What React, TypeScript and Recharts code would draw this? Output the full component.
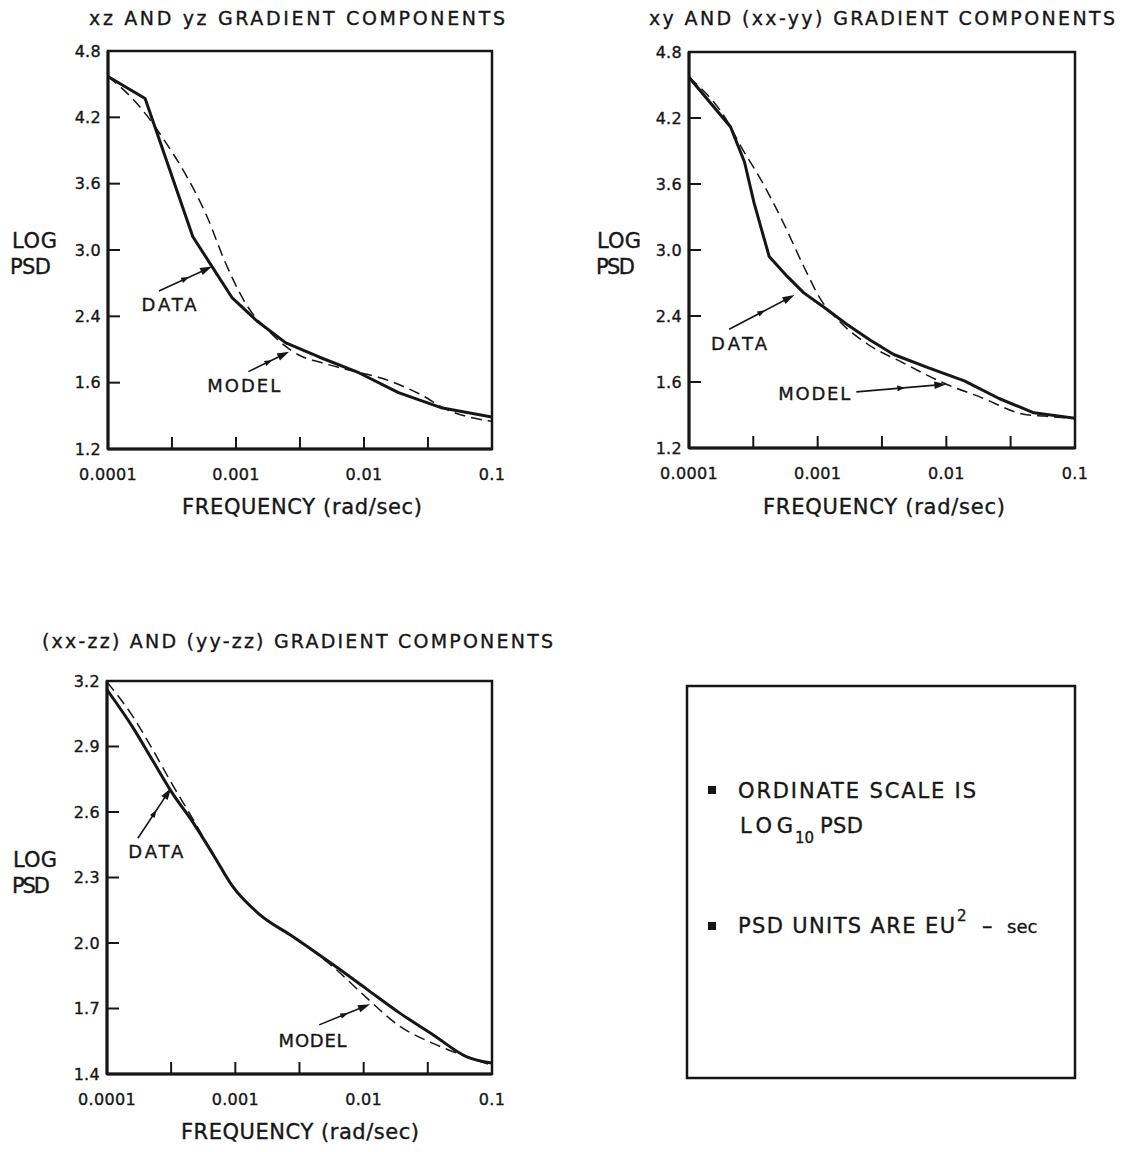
import React from "react";
import { LineChart, Line, XAxis, YAxis, ReferenceArea, ReferenceLine, ReferenceDot } from "recharts";

const INK = "#161616";
const FONT = "'DejaVu Sans', 'Open Sans', sans-serif";

// frequency axis (rad/sec), ticks every half decade, labels on decades only
const freqTicks = [0.0001, 0.000316, 0.001, 0.00316, 0.01, 0.0316, 0.1];
const freqTickLabels = ["0.0001", "", "0.001", "", "0.01", "", "0.1"];

const psdTicksTop = [1.2, 1.8, 2.4, 3.0, 3.6, 4.2, 4.8];
const psdTickLabelsTop = ["1.2", "1.6", "2.4", "3.0", "3.6", "4.2", "4.8"];
const psdTicksBottom = [1.4, 1.7, 2.0, 2.3, 2.6, 2.9, 3.2];
const psdTickLabelsBottom = ["1.4", "1.7", "2.0", "2.3", "2.6", "2.9", "3.2"];

// xz AND yz
const xzDataFreq = [0.0001, 0.000195, 0.00046, 0.00065, 0.00093, 0.00145, 0.00245, 0.0045, 0.0091, 0.0186, 0.041, 0.1];
const xzDataPsd = [4.57, 4.37, 3.12, 2.85, 2.57, 2.36, 2.16, 2.03, 1.89, 1.71, 1.57, 1.49];
const xzModelFreq = [0.0001, 0.000155, 0.0002, 0.00028, 0.00041, 0.00059, 0.00083, 0.0012, 0.0019, 0.0031, 0.0047, 0.0079, 0.0138, 0.0269, 0.0457, 0.1];
const xzModelPsd = [4.57, 4.37, 4.22, 3.98, 3.67, 3.31, 2.88, 2.51, 2.24, 2.05, 1.98, 1.91, 1.84, 1.7, 1.55, 1.45];

// xy AND (xx-yy)
const xyDataFreq = [0.0001, 0.00021, 0.00027, 0.00032, 0.00042, 0.00058, 0.00078, 0.00112, 0.00166, 0.00257, 0.0039, 0.0072, 0.0138, 0.0257, 0.0479, 0.1];
const xyDataPsd = [4.57, 4.12, 3.8, 3.43, 2.94, 2.76, 2.61, 2.48, 2.33, 2.18, 2.05, 1.93, 1.81, 1.65, 1.52, 1.47];
const xyModelFreq = [0.0001, 0.00021, 0.00024, 0.00037, 0.00054, 0.00078, 0.00107, 0.00145, 0.0024, 0.0045, 0.01, 0.0186, 0.039, 0.0575, 0.1];
const xyModelPsd = [4.57, 4.12, 3.99, 3.62, 3.25, 2.85, 2.54, 2.36, 2.15, 1.98, 1.78, 1.66, 1.51, 1.49, 1.47];

// (xx-zz) AND (yy-zz)
const zzDataFreq = [0.0001, 0.000158, 0.00023, 0.00032, 0.00047, 0.00068, 0.00095, 0.00155, 0.0028, 0.0058, 0.0105, 0.019, 0.0347, 0.063, 0.1];
const zzDataPsd = [3.16, 2.99, 2.83, 2.69, 2.55, 2.4, 2.26, 2.13, 2.03, 1.9, 1.79, 1.68, 1.58, 1.48, 1.45];
const zzModelFreq = [0.0001, 0.000158, 0.00023, 0.00032, 0.00047, 0.00068, 0.00095, 0.00155, 0.0028, 0.0058, 0.0105, 0.019, 0.0347, 0.063, 0.1];
const zzModelPsd = [3.195, 3.04, 2.88, 2.73, 2.565, 2.4, 2.26, 2.13, 2.03, 1.89, 1.75, 1.62, 1.54, 1.48, 1.44];

// annotation anchors in data units: [freq, psd]
const xzNotes = {
  dataText: [0.0003, 2.51], dataArrow: [[0.00025, 2.63], [0.00065, 2.85]],
  modelText: [0.00115, 1.77], modelArrow: [[0.00125, 1.9], [0.0026, 2.08]],
};
const xyNotes = {
  dataText: [0.000245, 2.15], dataArrow: [[0.000205, 2.28], [0.00066, 2.59]],
  modelText: [0.00094, 1.7], modelArrow: [[0.002, 1.71], [0.01, 1.78]],
};
const zzNotes = {
  dataText: [0.00024, 2.42], dataArrow: [[0.000174, 2.48], [0.000316, 2.71]],
  modelText: [0.004, 1.555], modelArrow: [[0.0045, 1.625], [0.0112, 1.72]],
};

const zip = (f: number[], v: number[]) => f.map((x, i) => ({ f: x, v: v[i] }));

function Arrow(props: any) {
  const { x1, y1, x2, y2 } = props;
  const a = Math.atan2(y2 - y1, x2 - x1);
  const c = Math.cos(a), s = Math.sin(a);
  const head = (tx: number, ty: number, len: number, half: number) => {
    const bx = tx - len * c, by = ty - len * s;
    return `${tx},${ty} ${bx - s * half},${by + c * half} ${bx + s * half},${by - c * half}`;
  };
  const mx = (x1 + x2) / 2, my = (y1 + y2) / 2;
  return (
    <g>
      <line x1={x1} y1={y1} x2={x2 - 8 * c} y2={y2 - 8 * s} stroke={INK} strokeWidth={1.6} />
      <polygon points={head(mx + 4 * c, my + 4 * s, 8, 2.8)} fill={INK} />
      <polygon points={head(x2, y2, 12, 3.8)} fill={INK} />
    </g>
  );
}

const noteText = (text: string, len: number) => (p: any) => (
  <text x={p.cx} y={p.cy} textAnchor="middle" dominantBaseline="central" fontFamily={FONT} fontSize={18}
    fill={INK} stroke={INK} strokeWidth={0.35} textLength={len}>
    {text}
  </text>
);

function Panel(props: any) {
  const { left, top, yAxisWidth, xAxisHeight, mTop, mRight, data, model, yTicks, yLabels, notes, dataType, widths } = props;
  const yMin = yTicks[0];
  const yMax = yTicks[yTicks.length - 1];
  const tickStyle = { fill: INK, stroke: INK, strokeWidth: 0.35, fontSize: 16, fontFamily: FONT, letterSpacing: 0.3 };
  return (
    <div style={{ position: "absolute", left, top }}>
      <LineChart width={520} height={500} margin={{ top: mTop, right: mRight, bottom: 0, left: 0 }}>
        <XAxis
          dataKey="f"
          type="number"
          scale="log"
          domain={[0.0001, 0.1]}
          allowDataOverflow
          ticks={freqTicks}
          tickFormatter={(v: number) => freqTickLabels[freqTicks.indexOf(v)] ?? ""}
          tickSize={-12}
          tickMargin={32}
          height={xAxisHeight}
          axisLine={{ stroke: INK, strokeWidth: 3 }}
          tickLine={{ stroke: INK, strokeWidth: 2 }}
          tick={tickStyle}
          interval={0}
        />
        <YAxis
          type="number"
          domain={[yMin, yMax]}
          allowDataOverflow
          ticks={yTicks}
          tickFormatter={(v: number) => yLabels[yTicks.indexOf(v)] ?? ""}
          tickSize={-12}
          tickMargin={19}
          width={yAxisWidth}
          axisLine={{ stroke: INK, strokeWidth: 3 }}
          tickLine={{ stroke: INK, strokeWidth: 2 }}
          tick={tickStyle}
          interval={0}
        />
        <ReferenceArea x1={0.0001} x2={0.1} y1={yMin} y2={yMax} fill="none" stroke={INK} strokeWidth={2.5} fillOpacity={0} />
        <Line data={model} dataKey="v" type="monotone" stroke={INK} strokeWidth={1.5} strokeDasharray="11 6" dot={false} isAnimationActive={false} />
        <Line data={data} dataKey="v" type={dataType} stroke={INK} strokeWidth={3} strokeLinejoin="round" dot={false} isAnimationActive={false} />
        <ReferenceLine segment={notes.dataArrow.map((p: number[]) => ({ x: p[0], y: p[1] }))} shape={Arrow} />
        <ReferenceLine segment={notes.modelArrow.map((p: number[]) => ({ x: p[0], y: p[1] }))} shape={Arrow} />
        <ReferenceDot x={notes.dataText[0]} y={notes.dataText[1]} r={0} shape={noteText("DATA", widths[0])} />
        <ReferenceDot x={notes.modelText[0]} y={notes.modelText[1]} r={0} shape={noteText("MODEL", widths[1])} />
      </LineChart>
    </div>
  );
}

function T(props: any) {
  const { x, y, len, size = 21, children, ...rest } = props;
  return (
    <text x={x} y={y} textLength={len} lengthAdjust="spacing" fontSize={size} fontFamily={FONT}
      fill={INK} stroke={INK} strokeWidth={0.35} {...rest}>
      {children}
    </text>
  );
}

export default function App() {
  return (
    <div style={{ position: "absolute", left: 0, top: 0, width: 1127, height: 1152, background: "#fff", overflow: "hidden" }}>
      <Panel left={0} top={0} yAxisWidth={108} xAxisHeight={51} mTop={51} mRight={28}
        data={zip(xzDataFreq, xzDataPsd)} model={zip(xzModelFreq, xzModelPsd)} dataType="linear"
        yTicks={psdTicksTop} yLabels={psdTickLabelsTop} notes={xzNotes} widths={[55, 73]} />
      <Panel left={580} top={0} yAxisWidth={109} xAxisHeight={52} mTop={52} mRight={25}
        data={zip(xyDataFreq, xyDataPsd)} model={zip(xyModelFreq, xyModelPsd)} dataType="linear"
        yTicks={psdTicksTop} yLabels={psdTickLabelsTop} notes={xyNotes} widths={[56, 72]} />
      <Panel left={0} top={630} yAxisWidth={107} xAxisHeight={56} mTop={51} mRight={28}
        data={zip(zzDataFreq, zzDataPsd)} model={zip(zzModelFreq, zzModelPsd)} dataType="monotone"
        yTicks={psdTicksBottom} yLabels={psdTickLabelsBottom} notes={zzNotes} widths={[55, 68]} />

      <svg width={1127} height={1152} style={{ position: "absolute", left: 0, top: 0, pointerEvents: "none" }}>
        <T x={89} y={25} len={416} size={19}>xz AND yz GRADIENT COMPONENTS</T>
        <T x={649} y={25} len={466} size={19}>xy AND (xx-yy) GRADIENT COMPONENTS</T>
        <T x={42} y={648} len={511} size={19}>(xx-zz) AND (yy-zz) GRADIENT COMPONENTS</T>

        <T x={12} y={248} len={45}>LOG</T>
        <T x={10} y={274} len={41}>PSD</T>
        <T x={597} y={248} len={44}>LOG</T>
        <T x={596} y={274} len={39}>PSD</T>
        <T x={13} y={867} len={44}>LOG</T>
        <T x={12} y={893} len={38}>PSD</T>

        <T x={182} y={514} len={240}>FREQUENCY (rad/sec)</T>
        <T x={763} y={514} len={242}>FREQUENCY (rad/sec)</T>
        <T x={181} y={1139} len={238}>FREQUENCY (rad/sec)</T>

        <rect x={687} y={686} width={388} height={392} fill="none" stroke={INK} strokeWidth={2.5} />
        <rect x={708} y={786} width={8} height={8} fill={INK} />
        <T x={738} y={798} len={238}>ORDINATE SCALE IS</T>
        <T x={740} y={833} len={53}>LOG</T>
        <T x={795} y={843} size={15}>10</T>
        <T x={820} y={833} len={43}>PSD</T>
        <rect x={708} y={922} width={8} height={8} fill={INK} />
        <T x={738} y={933} len={217}>PSD UNITS ARE EU</T>
        <T x={957} y={921} size={15}>2</T>
        <T x={982} y={933}>–</T>
        <T x={1007} y={933} size={18}>sec</T>
      </svg>
    </div>
  );
}
